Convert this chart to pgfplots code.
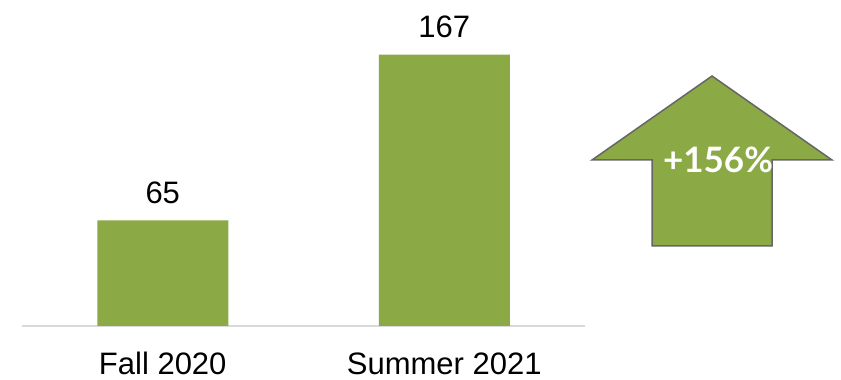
\documentclass[border=0pt]{standalone}
\usepackage{pgfplots}
\pgfplotsset{compat=1.18}
\usepackage{fontspec}
\setmainfont{Liberation Sans}
\newfontfamily\arrowfont{Lato}
\definecolor{bargreen}{RGB}{139,169,68}
\definecolor{basegray}{RGB}{217,217,217}
\definecolor{edgegray}{RGB}{102,102,102}
\begin{document}
\begin{tikzpicture}[x=1pt,y=1pt]
\useasboundingbox (0,0) rectangle (841,380);
\begin{axis}[
  at={(22pt,54pt)}, anchor=south west,
  scale only axis,
  width=563pt, height=325pt,
  xmin=-0.5, xmax=1.5, ymin=0, ymax=200,
  axis x line=bottom, axis y line=none,
  x axis line style={basegray, line width=1.5pt, -},
  xtick={0,1}, xticklabels={Fall 2020, Summer 2021},
  major tick length=0pt,
  xticklabel style={font=\fontsize{31}{36}\selectfont, yshift=-23pt},
  ytick=\empty,
  /pgf/number format/assume math mode=true,
  nodes near coords,
  every node near coord/.append style={font=\fontsize{31}{36}\selectfont, black, yshift=13pt},
  clip=false,
]
\addplot[ybar, bar width=131pt, fill=bargreen, draw=none] coordinates {(0,65) (1,167)};
\end{axis}
\draw[edgegray, line width=1.5pt, fill=bargreen, line join=miter]
  (712,304) -- (832,220) -- (772,220) -- (772,134) -- (652,134) -- (652,220) -- (592,220) -- cycle;
\node[white, font=\arrowfont\bfseries\fontsize{35}{40}\selectfont] at (718,220) {+156\%};
\end{tikzpicture}
\end{document}
